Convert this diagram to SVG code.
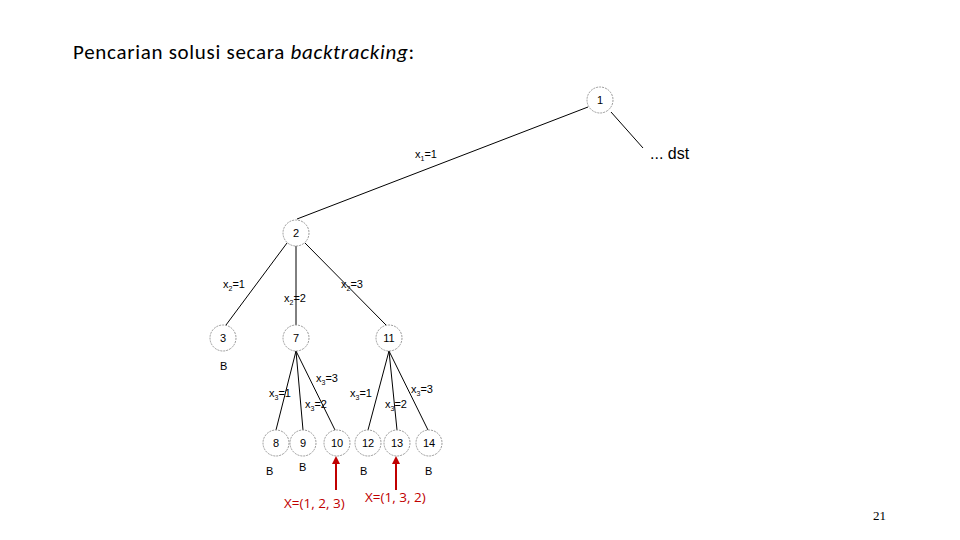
<svg xmlns="http://www.w3.org/2000/svg" width="960" height="540" viewBox="0 0 960 540">
<style>
.n circle{fill:#fff;stroke:#999;stroke-width:1;stroke-dasharray:2 1}
.n text{font-family:"Liberation Sans",Arial,sans-serif;font-size:11px;text-anchor:middle;fill:#000}
.l{font-family:"Liberation Sans",Arial,sans-serif;font-size:11px;fill:#000}
.e line{stroke:#000;stroke-width:1}
.r{font-family:"Open Sans","Liberation Sans",sans-serif;font-size:13.5px;fill:#c00000}
</style>
<defs><marker id="ah" markerWidth="8" markerHeight="8" refX="4" refY="4" orient="auto" markerUnits="userSpaceOnUse"><path d="M0,0 L8,4 L0,8 z" fill="#c00000"/></marker></defs>
<rect width="960" height="540" fill="#fff"/>
<text x="73" y="59" font-family="Calibri,'Liberation Sans',sans-serif" font-size="21" letter-spacing="0.7">Pencarian solusi secara <tspan font-style="italic">backtracking</tspan>:</text>
<g id="connectors" class="e">
<line x1="588" y1="107" x2="297" y2="219"/>
<line x1="611" y1="112" x2="643" y2="148"/>
<line x1="287" y1="243" x2="226" y2="325"/>
<line x1="296" y1="246" x2="296" y2="325"/>
<line x1="305" y1="243" x2="386" y2="325"/>
<line x1="296" y1="351" x2="276" y2="430"/>
<line x1="296" y1="351" x2="303" y2="430"/>
<line x1="296" y1="351" x2="335" y2="430"/>
<line x1="389" y1="351" x2="368" y2="430"/>
<line x1="389" y1="351" x2="397" y2="430"/>
<line x1="389" y1="351" x2="428" y2="430"/>
<line x1="336" y1="490" x2="336" y2="460" style="stroke:#c00000;stroke-width:2" marker-end="url(#ah)"/>
<line x1="396" y1="490" x2="396" y2="460" style="stroke:#c00000;stroke-width:2" marker-end="url(#ah)"/>
</g>
<text class="l" x="415" y="158">x<tspan font-size="7" dy="3">1</tspan><tspan dy="-3">=1</tspan></text>
<text x="650" y="159" font-family="'Liberation Sans',Arial,sans-serif" font-size="16">... dst</text>
<text class="l" x="223" y="288">x<tspan font-size="7" dy="3">2</tspan><tspan dy="-3">=1</tspan></text>
<text class="l" x="284" y="302">x<tspan font-size="7" dy="3">2</tspan><tspan dy="-3">=2</tspan></text>
<text class="l" x="341" y="288">x<tspan font-size="7" dy="3">2</tspan><tspan dy="-3">=3</tspan></text>
<text class="l" x="269" y="397">x<tspan font-size="7" dy="3">3</tspan><tspan dy="-3">=1</tspan></text>
<text class="l" x="305" y="408">x<tspan font-size="7" dy="3">3</tspan><tspan dy="-3">=2</tspan></text>
<text class="l" x="316" y="382">x<tspan font-size="7" dy="3">3</tspan><tspan dy="-3">=3</tspan></text>
<text class="l" x="350" y="397">x<tspan font-size="7" dy="3">3</tspan><tspan dy="-3">=1</tspan></text>
<text class="l" x="385" y="408">x<tspan font-size="7" dy="3">3</tspan><tspan dy="-3">=2</tspan></text>
<text class="l" x="411" y="393">x<tspan font-size="7" dy="3">3</tspan><tspan dy="-3">=3</tspan></text>
<g id="n1" class="n"><circle cx="600" cy="100" r="13"/><text x="600" y="104">1</text></g>
<g id="n2" class="n"><circle cx="296" cy="233" r="13"/><text x="296" y="237">2</text></g>
<g id="n3" class="n"><circle cx="223" cy="338" r="13"/><text x="223" y="342">3</text></g>
<g id="n7" class="n"><circle cx="296" cy="338" r="13"/><text x="296" y="342">7</text></g>
<g id="n11" class="n"><circle cx="389" cy="338" r="13"/><text x="389" y="342">11</text></g>
<g id="n8" class="n"><circle cx="276" cy="443" r="13"/><text x="276" y="447">8</text></g>
<g id="n9" class="n"><circle cx="303" cy="443" r="13"/><text x="303" y="447">9</text></g>
<g id="n10" class="n"><circle cx="337" cy="443" r="13"/><text x="337" y="447">10</text></g>
<g id="n12" class="n"><circle cx="368" cy="443" r="13"/><text x="368" y="447">12</text></g>
<g id="n13" class="n"><circle cx="397" cy="443" r="13"/><text x="397" y="447">13</text></g>
<g id="n14" class="n"><circle cx="429" cy="443" r="13"/><text x="429" y="447">14</text></g>
<g class="l" font-size="12">
<text x="220" y="370">B</text><text x="266" y="475">B</text><text x="299" y="471">B</text><text x="360" y="475">B</text><text x="425" y="475">B</text>
</g>
<text class="r" x="284" y="508">X=(1, 2, 3)</text>
<text class="r" x="365" y="502">X=(1, 3, 2)</text>
<text x="873" y="520" font-family="'Liberation Serif',serif" font-size="13">21</text>
</svg>
